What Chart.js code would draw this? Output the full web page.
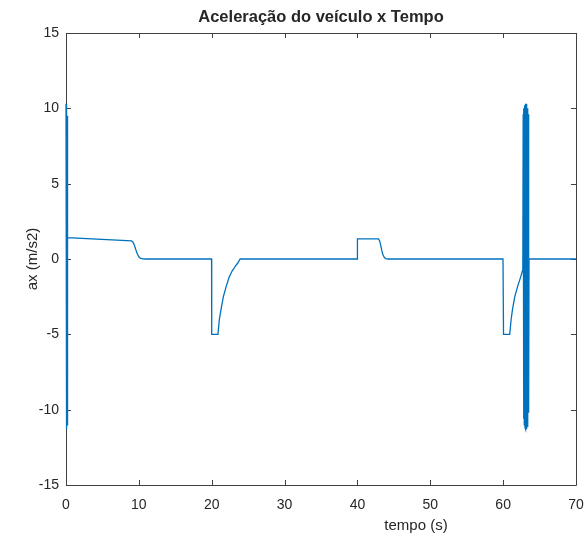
<!DOCTYPE html>
<html>
<head>
<meta charset="utf-8">
<script src="https://cdn.jsdelivr.net/npm/chart.js@4/dist/chart.umd.min.js"></script>
<style>
  html, body { margin: 0; padding: 0; background: #ffffff; }
  #wrap { width: 588px; height: 547px; }
</style>
</head>
<body>
<div id="wrap"><canvas id="c" width="588" height="547"></canvas></div>
<script>
// Labels
const titleText = 'Aceleração do veículo x Tempo';
const xLabel = 'tempo (s)';
const yLabel = 'ax (m/s2)';

// Tick values
const xTicks = [0, 10, 20, 30, 40, 50, 60, 70];
const yTicks = [-15, -10, -5, 0, 5, 10, 15];

// Simulation time (s)
const time = [
  0, 0.03, 0.06, 0.09, 0.12, 0.15, 0.18, 0.21, 0.25,
  9.0, 9.2, 9.4, 9.6, 9.8, 10.0, 10.2, 10.5, 11.0,
  19.98, 20.0, 20.85, 21.05, 21.3, 21.6, 22.0, 22.4, 22.8, 23.2, 23.6, 23.9,
  39.98, 40.0, 42.9, 43.05, 43.2, 43.35, 43.5, 43.7, 43.9, 44.2,
  59.98, 60.05, 60.9, 61.1, 61.3, 61.6, 62.0, 62.4, 62.7,
  62.75, 62.8, 62.85, 62.9, 62.95, 63.0, 63.05, 63.1, 63.15, 63.2,
  63.25, 63.3, 63.35, 63.4, 63.45, 63.5, 63.55,
  70
];

// Longitudinal acceleration ax (m/s2)
const accel = [
  10.3, -11.3, 10.2, -11.2, 10.0, -11.0, 9.5, -10.0, 1.42,
  1.2, 1.12, 0.9, 0.6, 0.33, 0.15, 0.05, 0.01, 0,
  0, -5.0, -5.0, -4.0, -3.3, -2.5, -1.8, -1.2, -0.8, -0.5, -0.25, 0,
  0, 1.33, 1.33, 1.2, 0.9, 0.55, 0.28, 0.1, 0.03, 0,
  0, -5.0, -5.0, -4.0, -3.3, -2.5, -1.8, -1.2, -0.7,
  9.6, -10.6, 10.0, -11.0, 10.2, -11.2, 10.3, -11.3, 10.3, -11.3,
  10.2, -11.1, 10.0, -10.8, 9.6, -10.2, 0,
  0
];

const fontFamily = '"Liberation Sans", Arial, Helvetica, sans-serif';
const textColor = '#262626';
const axisColor = '#404040';

// Box around the axes with inward tick marks on all four sides, plus title and axis labels
const matlabAxes = {
  id: 'matlabAxes',
  beforeDatasetsDraw(chart) {
    const { ctx, chartArea: a, scales } = chart;
    const len = 5;
    ctx.save();
    ctx.strokeStyle = axisColor;
    ctx.lineWidth = 1;
    ctx.beginPath();
    ctx.rect(Math.round(a.left) + 0.5, Math.round(a.top) + 0.5,
             Math.round(a.right - a.left), Math.round(a.bottom - a.top));
    for (const v of xTicks) {
      const px = Math.round(scales.x.getPixelForValue(v)) + 0.5;
      ctx.moveTo(px, a.bottom); ctx.lineTo(px, a.bottom - len);
      ctx.moveTo(px, a.top); ctx.lineTo(px, a.top + len);
    }
    for (const v of yTicks) {
      const py = Math.round(scales.y.getPixelForValue(v)) + 0.5;
      ctx.moveTo(a.left, py); ctx.lineTo(a.left + len, py);
      ctx.moveTo(a.right, py); ctx.lineTo(a.right - len, py);
    }
    ctx.stroke();

    ctx.fillStyle = textColor;
    ctx.textAlign = 'center';
    ctx.textBaseline = 'middle';
    ctx.font = 'bold 16.5px ' + fontFamily;
    ctx.fillText(titleText, (a.left + a.right) / 2, 17);

    ctx.font = '15px ' + fontFamily;
    ctx.fillText(xLabel, 416, 526);

    ctx.translate(33, (a.top + a.bottom) / 2);
    ctx.rotate(-Math.PI / 2);
    ctx.fillText(yLabel, 0, 0);
    ctx.restore();
  }
};

new Chart(document.getElementById('c'), {
  type: 'line',
  data: {
    datasets: [{
      data: time.map((t, i) => ({ x: t, y: accel[i] })),
      borderColor: '#0072BD',
      borderWidth: 1.3,
      pointRadius: 0,
      tension: 0,
      fill: false,
      clip: { left: 3, top: 0, right: 0, bottom: 0 }
    }]
  },
  options: {
    responsive: false,
    devicePixelRatio: 1,
    animation: false,
    layout: { padding: { top: 33, right: 12, left: 0, bottom: 0 } },
    plugins: {
      legend: { display: false },
      title: { display: false },
      tooltip: { enabled: false }
    },
    scales: {
      x: {
        type: 'linear',
        min: 0, max: 70,
        afterBuildTicks: s => { s.ticks = xTicks.map(v => ({ value: v })); },
        afterFit: s => { s.height = 62; s.paddingLeft = 0; s.paddingRight = 0; },
        grid: { display: false, drawTicks: false },
        border: { display: false },
        ticks: { color: textColor, padding: 12, maxRotation: 0, font: { family: fontFamily, size: 14 } }
      },
      y: {
        type: 'linear',
        min: -15, max: 15,
        afterBuildTicks: s => { s.ticks = yTicks.map(v => ({ value: v })); },
        afterFit: s => { s.width = 66; },
        grid: { display: false, drawTicks: false },
        border: { display: false },
        ticks: { color: textColor, padding: 7, font: { family: fontFamily, size: 14 } }
      }
    }
  },
  plugins: [matlabAxes]
});
</script>
</body>
</html>
